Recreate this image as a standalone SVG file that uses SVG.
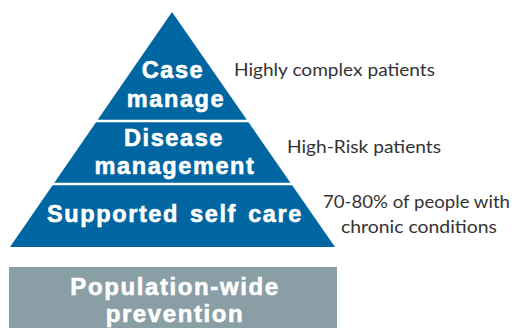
<svg xmlns="http://www.w3.org/2000/svg" width="517" height="328" viewBox="0 0 517 328">
<style>
.tier{fill:#0066a1}
.sep{stroke:#ffffff;stroke-width:2.5}
.t{font-family:"Liberation Sans",Arial,sans-serif;font-weight:bold;fill:#ffffff;stroke:#ffffff;stroke-width:0.6px;text-anchor:middle;letter-spacing:1.6px;font-size:23.5px}
.lbl{font-family:"Lato","Noto Sans",sans-serif;font-size:18px;fill:#333333}
</style>
<rect width="517" height="328" fill="#ffffff"/>
<g id="pyramid">
<polygon class="tier" points="172,12 335,247 10,247"/>
<line class="sep" x1="96" y1="121" x2="249" y2="121"/>
<line class="sep" x1="52" y1="184" x2="292" y2="184"/>
</g>
<g id="case-manage">
<text class="t" x="173" y="78">Case</text>
<text class="t" x="176" y="107">manage</text>
</g>
<g id="disease-management">
<text class="t" x="174" y="146">Disease</text>
<text class="t" x="175" y="174">management</text>
</g>
<g id="supported-self-care">
<text class="t" x="175" y="222" style="word-spacing:3px">Supported self care</text>
</g>
<g id="population-wide-prevention">
<rect x="9" y="267" width="328" height="61" fill="#8a9ea6"/>
<text class="t" x="175" y="294.5" style="font-size:24px">Population-wide</text>
<text class="t" x="175" y="322" style="font-size:24px">prevention</text>
</g>
<g id="labels">
<text class="lbl" x="234" y="76" textLength="201" lengthAdjust="spacingAndGlyphs">Highly complex patients</text>
<text class="lbl" x="287" y="153" textLength="154" lengthAdjust="spacingAndGlyphs">High-Risk patients</text>
<text class="lbl" x="323" y="208" textLength="187" lengthAdjust="spacingAndGlyphs">70-80% of people with</text>
<text class="lbl" x="341" y="233" textLength="156" lengthAdjust="spacingAndGlyphs">chronic conditions</text>
</g>
</svg>
